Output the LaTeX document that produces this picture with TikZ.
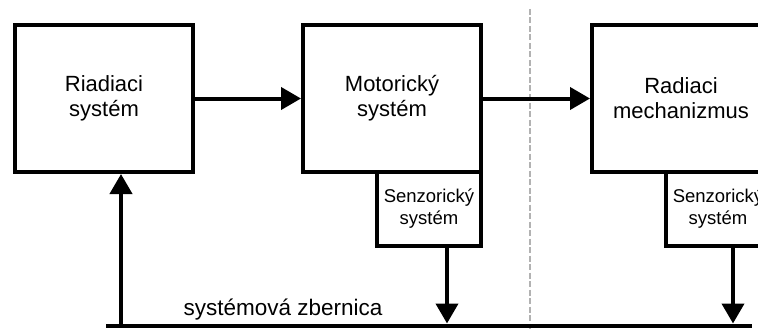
\documentclass[tikz,border=0pt]{standalone}
\usepackage{fontspec}
\setmainfont{Liberation Sans}
\usetikzlibrary{positioning,arrows.meta}

\begin{document}
\begin{tikzpicture}[
    x=1pt, y=-1pt,
    box/.style={draw, line width=4pt, minimum width=178pt, minimum height=147pt,
                align=center, inner sep=0pt, font=\fontsize{22}{25}\selectfont}, % main blocks
    sbox/.style={draw, line width=4pt, minimum width=104pt, minimum height=74pt,
                 align=center, inner sep=0pt, font=\fontsize{18.5}{22}\selectfont}, % sensor blocks
    arr/.style={line width=4pt, -{Triangle[length=20pt,width=22pt]}},            % thick arrows
    divider/.style={gray!60, line width=1.2pt, dash pattern=on 6pt off 2.5pt}      % boundary line
    ]

    \path[use as bounding box, clip] (0,0) rectangle (758,329);

    % Main blocks
    \node[box] (RS) at (104,98.5) {Riadiaci\\systém};
    \node[box, right=106pt of RS] (MS) {Motorický\\systém};
    \node[box, right=107pt of MS] (RM) {Radiaci\\mechanizmus};

    % Sensor blocks under the right corners
    \node[sbox, below=-4pt of MS.south east, anchor=north east] (SS1) {Senzorický\\systém};
    \node[sbox, below=-4pt of RM.south east, anchor=north east] (SS2) {Senzorický\\systém};

    % Boundary
    \draw[divider] (530,9) -- (530,329);

    % System bus
    \coordinate (busL) at (106,325.5);
    \coordinate (busR) at (752,325.5);
    \draw[line width=4pt] (busL) -- (busR);
    \node[anchor=base west, font=\fontsize{22.5}{25}\selectfont] (busLabel) at (180,315) {systémová zbernica};

    % Connections
    \draw[arr] (RS) -- (MS);
    \draw[arr] (MS) -- (RM);
    \draw[arr] ([xshift=17pt]RS.south |- busL) -- ([xshift=17pt]RS.south);
    \draw[arr] ([xshift=18pt]SS1.south) -- ([xshift=18pt, yshift=2pt]SS1.south |- busL);
    \draw[arr] ([xshift=15pt]SS2.south) -- ([xshift=15pt, yshift=2pt]SS2.south |- busL);

\end{tikzpicture}
\end{document}
